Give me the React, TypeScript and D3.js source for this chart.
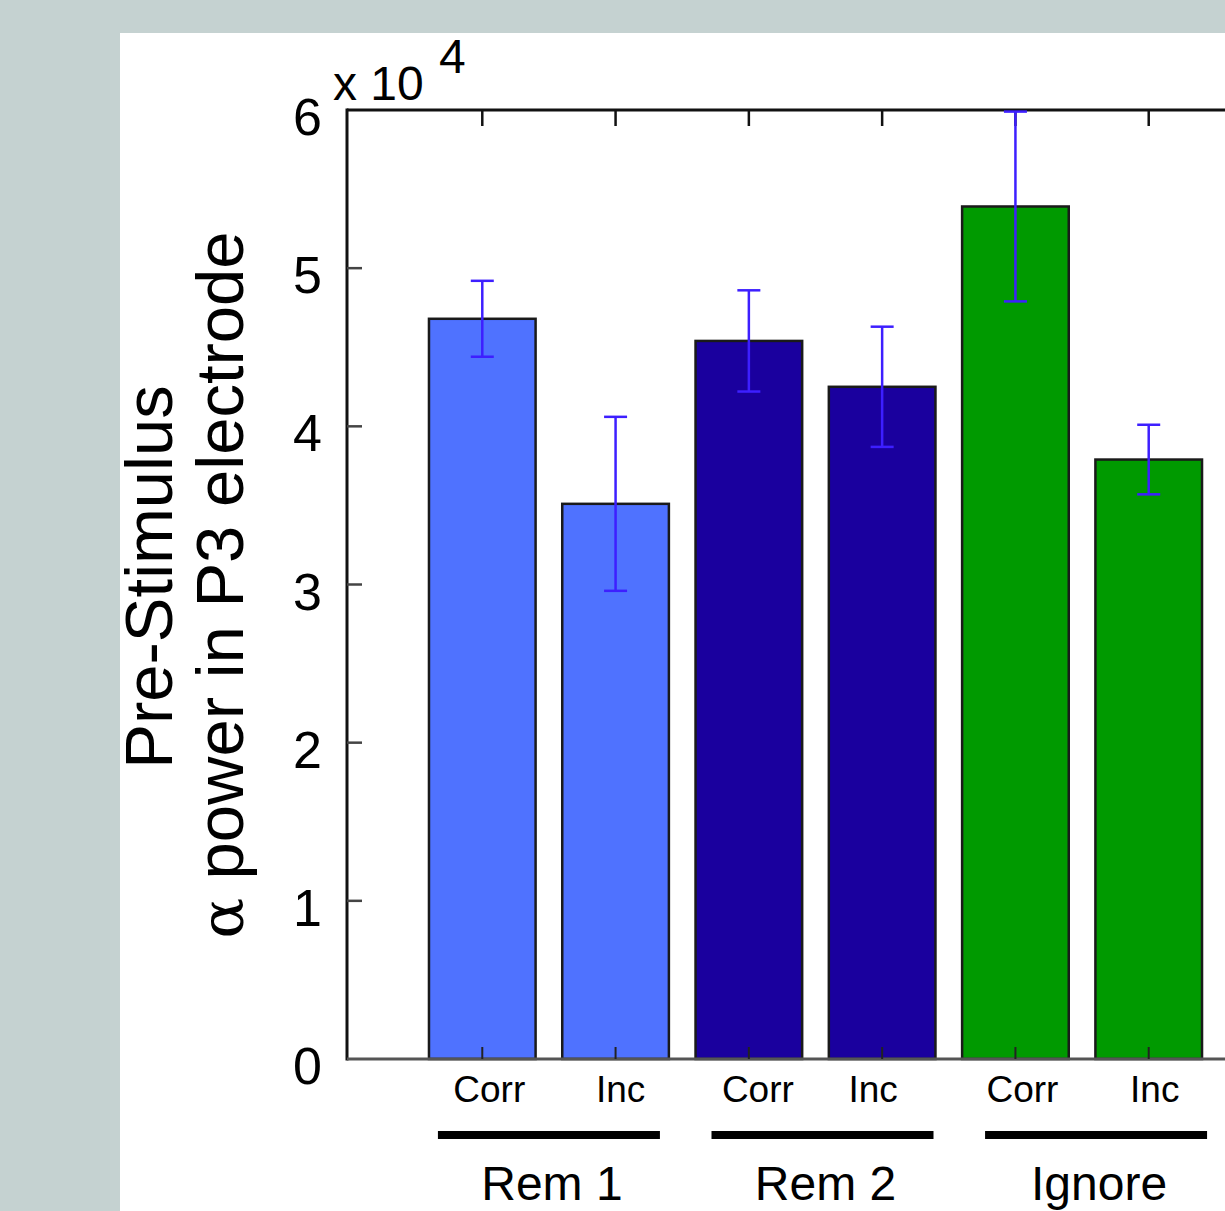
import React from "react";
import * as d3 from "d3";

// Pre-stimulus alpha power (x 10^4) per condition, with standard error
const conditions = ["Corr", "Inc", "Corr", "Inc", "Corr", "Inc"];
const groups = ["Rem 1", "Rem 2", "Ignore"];
const means = [4.68, 3.51, 4.54, 4.25, 5.39, 3.79];
const errors = [0.24, 0.55, 0.32, 0.38, 0.6, 0.22];
const barColors = ["#4f72ff", "#4f72ff", "#1a009e", "#1a009e", "#009a00", "#009a00"];
const yTicks = [0, 1, 2, 3, 4, 5, 6];

const W = 1225;
const H = 1211;
const FONT = "'Liberation Sans', Arial, Helvetica, sans-serif";

// small hand-placed nudges of the condition labels under each bar
const labelNudge = [7, 5, 9, -9, 7, 6];

export default function App() {
  const x = d3.scaleLinear().domain([0, 7]).range([349, 1282]);
  const y = d3.scaleLinear().domain([0, 6]).range([1059, 110]);
  const barW = x(0.8) - x(0);
  const capW = 23;
  const errColor = "#3d1fff";
  const left = x(0) - 2;
  const top = y(6);
  const bottom = y(0);

  return (
    <svg
      width={W}
      height={H}
      style={{ position: "absolute", left: 0, top: 0 }}
      fontFamily={FONT}
    >
      <rect x={0} y={0} width={W} height={H} fill="#c5d2d1" />
      <rect x={120} y={33} width={W - 120} height={H - 33} fill="#ffffff" />

      {/* bars */}
      {means.map((m, i) => {
        const cx = x(i + 1);
        return (
          <rect
            key={"b" + i}
            x={cx - barW / 2}
            y={y(m)}
            width={barW}
            height={y(0) - y(m)}
            fill={barColors[i]}
            stroke="#1a1a1a"
            strokeWidth={2.5}
          />
        );
      })}

      {/* axes box */}
      <line x1={left} x2={W} y1={top} y2={top} stroke="#111" strokeWidth={3} />
      <line x1={left} x2={left} y1={top - 1.5} y2={bottom + 1.5} stroke="#111" strokeWidth={3} />
      <line x1={left} x2={W} y1={bottom} y2={bottom} stroke="#555" strokeWidth={3} />

      {/* y ticks */}
      {yTicks.map((t) => (
        <g key={"yt" + t}>
          {t > 0 && t < 6 && (
            <line x1={left} x2={left + 15} y1={y(t)} y2={y(t)} stroke="#444" strokeWidth={2.5} />
          )}
          <text x={322} y={y(t) + 25} fontSize={52} textAnchor="end" fill="#000">
            {t}
          </text>
        </g>
      ))}

      {/* x ticks top and bottom */}
      {means.map((_, i) => (
        <g key={"xt" + i}>
          <line x1={x(i + 1)} x2={x(i + 1)} y1={top} y2={top + 16} stroke="#111" strokeWidth={2.5} />
          <line x1={x(i + 1)} x2={x(i + 1)} y1={bottom} y2={bottom - 12} stroke="#222" strokeWidth={2} />
        </g>
      ))}

      {/* error bars */}
      {means.map((m, i) => {
        const cx = x(i + 1);
        const hi = y(m + errors[i]);
        const lo = y(m - errors[i]);
        return (
          <g key={"e" + i} stroke={errColor} strokeWidth={2.5}>
            <line x1={cx} x2={cx} y1={hi} y2={lo} />
            <line x1={cx - capW / 2} x2={cx + capW / 2} y1={hi} y2={hi} />
            <line x1={cx - capW / 2} x2={cx + capW / 2} y1={lo} y2={lo} />
          </g>
        );
      })}

      {/* exponent */}
      <text x={333} y={100} fontSize={48} fill="#000">x 10</text>
      <text x={439} y={73} fontSize={48} fill="#000">4</text>

      {/* condition labels */}
      {conditions.map((c, i) => (
        <text
          key={"c" + i}
          x={x(i + 1) + labelNudge[i]}
          y={1102}
          fontSize={37}
          textAnchor="middle"
          fill="#000"
        >
          {c}
        </text>
      ))}

      {/* group underlines and labels */}
      {groups.map((g, k) => {
        const gc = (x(2 * k + 1) + x(2 * k + 2)) / 2 + k * 7;
        return (
          <g key={"g" + k}>
            <line x1={gc - 111} x2={gc + 111} y1={1135} y2={1135} stroke="#000" strokeWidth={8} />
            <text x={gc + 3} y={1200} fontSize={48} textAnchor="middle" fill="#000">
              {g}
            </text>
          </g>
        );
      })}

      {/* y axis label */}
      <g transform="translate(172,577) rotate(-90)">
        <text x={0} y={0} fontSize={67} textAnchor="middle" fill="#000">
          Pre-Stimulus
        </text>
      </g>
      <g transform="translate(243,585) rotate(-90)">
        <text x={0} y={0} fontSize={67} textAnchor="middle" fill="#000">
          <tspan fontFamily="'DejaVu Serif', 'Liberation Serif', serif" fontSize={60}>α</tspan>
          {" power in P3 electrode"}
        </text>
      </g>
    </svg>
  );
}
